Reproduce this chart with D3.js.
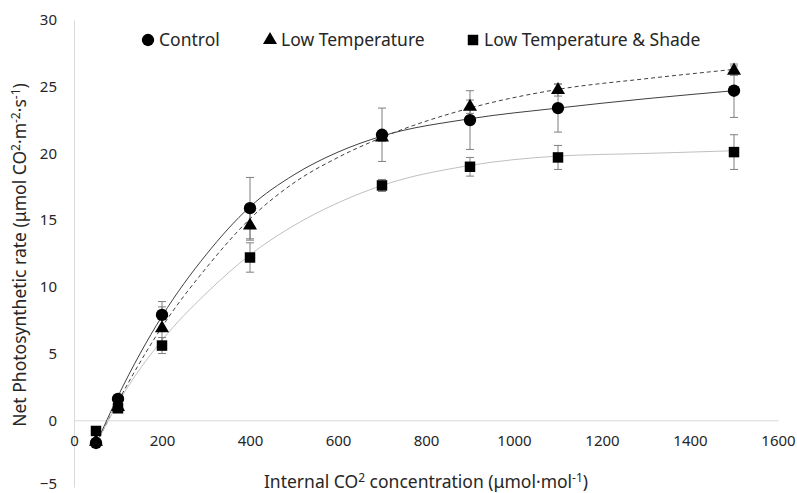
<!DOCTYPE html>
<html lang="en">
<head>
  <meta charset="utf-8">
  <title>Net photosynthetic rate vs internal CO2</title>
  <style>
    body { margin: 0; background: #fff; }
    svg { font-family: "Noto Sans", "Open Sans", sans-serif; }
  </style>
</head>
<body>
  <script src="https://cdnjs.cloudflare.com/ajax/libs/d3/7.8.5/d3.min.js"></script>
  <script type="text/javascript">
  // measured points
  const ciValues = [50, 100, 200, 400, 700, 900, 1100, 1500];
  const controlMean = [-1.7, 1.6, 7.9, 15.9, 21.4, 22.5, 23.4, 24.7];
  const controlErr = [0.3, 0.3, 1.0, 2.3, 2.0, 2.2, 1.8, 2.0];
  const lowTempMean = [-1.6, 1.0, 6.9, 14.6, 21.2, 23.5, 24.75, 26.2];
  const lowTempErr = [0.2, 0.3, 1.6, 1.1, 0.3, 0.5, 0.45, 0.35];
  const shadeMean = [-0.8, 0.9, 5.6, 12.2, 17.6, 19.0, 19.7, 20.1];
  const shadeErr = [0.1, 0.2, 0.6, 1.1, 0.45, 0.7, 0.9, 1.3];

  // fitted curves
  const curveCi = [50, 100, 200, 300, 400, 500, 600, 700, 900, 1100, 1300, 1500];
  const controlFit = [-1.8, 1.8, 7.8, 12.4, 16.0, 18.4, 20.1, 21.3, 22.6, 23.4, 24.1, 24.7];
  const lowTempFit = [-1.8, 1.4, 7.0, 11.4, 15.1, 17.8, 19.7, 21.2, 23.4, 24.8, 25.6, 26.3];
  const shadeFit = [-1.8, 1.3, 6.0, 9.5, 12.4, 14.6, 16.3, 17.6, 19.1, 19.8, 20.0, 20.2];

  const xTicks = [0, 200, 400, 600, 800, 1000, 1200, 1400, 1600];
  const yTicks = [-5, 0, 5, 10, 15, 20, 25, 30];

  const width = 797, height = 493;

  const svg = d3.select("body")
    .append("svg")
    .attr("width", width)
    .attr("height", height);

  const x = d3.scaleLinear().domain([0, 1600]).range([74, 778]);
  const y = d3.scaleLinear().domain([-5, 30]).range([487, 20]);

  const series = [
    { name: "Control", mean: controlMean, err: controlErr, fit: controlFit,
      shape: d3.symbolCircle, size: 120, stroke: "#404040", dash: null },
    { name: "Low Temperature", mean: lowTempMean, err: lowTempErr, fit: lowTempFit,
      shape: d3.symbolTriangle, size: 85, stroke: "#404040", dash: "4,3" },
    { name: "Low Temperature & Shade", mean: shadeMean, err: shadeErr, fit: shadeFit,
      shape: d3.symbolSquare, size: 110, stroke: "#c0c0c0", dash: null }
  ];

  // axes
  const yAxis = svg.append("g")
    .attr("transform", `translate(${x(0)},0)`)
    .call(d3.axisLeft(y).tickValues(yTicks).tickSize(0).tickPadding(17));
  yAxis.select(".domain").attr("stroke", "#d9d9d9");
  // keep the lowest label inside the picture
  yAxis.selectAll(".tick text").filter(d => d === -5).attr("dy", "0.1em");

  const xAxis = svg.append("g")
    .attr("transform", `translate(0,${y(0)})`)
    .call(d3.axisBottom(x).tickValues(xTicks).tickFormat(d3.format("d"))
      .tickSize(0).tickPadding(15));
  xAxis.select(".domain").attr("stroke", "#d9d9d9");

  svg.selectAll(".tick text")
    .attr("font-size", "15px")
    .attr("font-family", "Noto Sans, sans-serif")
    .attr("fill", "#262626");

  // fitted lines
  const line = d3.line()
    .x((d, i) => x(curveCi[i]))
    .y(d => y(d))
    .curve(d3.curveMonotoneX);

  series.forEach(s => {
    svg.append("path")
      .datum(s.fit)
      .attr("fill", "none")
      .attr("stroke", s.stroke)
      .attr("stroke-width", 1)
      .attr("stroke-dasharray", s.dash)
      .attr("d", line);
  });

  // error bars
  series.forEach(s => {
    const g = svg.append("g").attr("stroke", "#7f7f7f").attr("stroke-width", 1);
    s.mean.forEach((m, i) => {
      const cx = x(ciValues[i]);
      g.append("line").attr("x1", cx).attr("x2", cx)
        .attr("y1", y(m - s.err[i])).attr("y2", y(m + s.err[i]));
      [m - s.err[i], m + s.err[i]].forEach(v => {
        g.append("line").attr("x1", cx - 4).attr("x2", cx + 4)
          .attr("y1", y(v)).attr("y2", y(v));
      });
    });
  });

  // markers
  series.forEach(s => {
    svg.append("g").selectAll("path")
      .data(s.mean)
      .enter()
      .append("path")
      .attr("transform", (d, i) => `translate(${x(ciValues[i])},${y(d)})`)
      .attr("d", d3.symbol().type(s.shape).size(s.size))
      .attr("fill", "#000");
  });

  // legend
  const legendX = [148, 270, 473];
  const legend = svg.selectAll(".legend")
    .data(series)
    .enter()
    .append("g")
    .attr("class", "legend")
    .attr("transform", (d, i) => `translate(${legendX[i]},40)`);

  legend.append("path")
    .attr("d", d => d3.symbol().type(d.shape).size(d.size)())
    .attr("fill", "#000");

  legend.append("text")
    .attr("x", 11)
    .attr("dy", "0.35em")
    .attr("font-size", "17.5px")
    .attr("fill", "#262626")
    .text(d => d.name);

  // axis titles
  const xTitle = svg.append("text")
    .attr("x", 426)
    .attr("y", 488)
    .attr("text-anchor", "middle")
    .attr("font-size", "17.5px")
    .attr("fill", "#262626");
  xTitle.append("tspan").text("Internal CO");
  xTitle.append("tspan").attr("font-size", "12px").attr("dy", "-6").text("2");
  xTitle.append("tspan").attr("dy", "6").text(" concentration (μmol·mol");
  xTitle.append("tspan").attr("font-size", "12px").attr("dy", "-6").text("-1");
  xTitle.append("tspan").attr("dy", "6").text(")");

  const yTitle = svg.append("text")
    .attr("transform", "translate(26,255) rotate(-90)")
    .attr("text-anchor", "middle")
    .attr("font-size", "17.5px")
    .attr("fill", "#262626");
  yTitle.append("tspan").text("Net Photosynthetic rate (μmol CO");
  yTitle.append("tspan").attr("font-size", "12px").attr("dy", "-6").text("2");
  yTitle.append("tspan").attr("dy", "6").text("·m");
  yTitle.append("tspan").attr("font-size", "12px").attr("dy", "-6").text("-2");
  yTitle.append("tspan").attr("dy", "6").text("·s");
  yTitle.append("tspan").attr("font-size", "12px").attr("dy", "-6").text("-1");
  yTitle.append("tspan").attr("dy", "6").text(")");
  </script>
</body>
</html>
